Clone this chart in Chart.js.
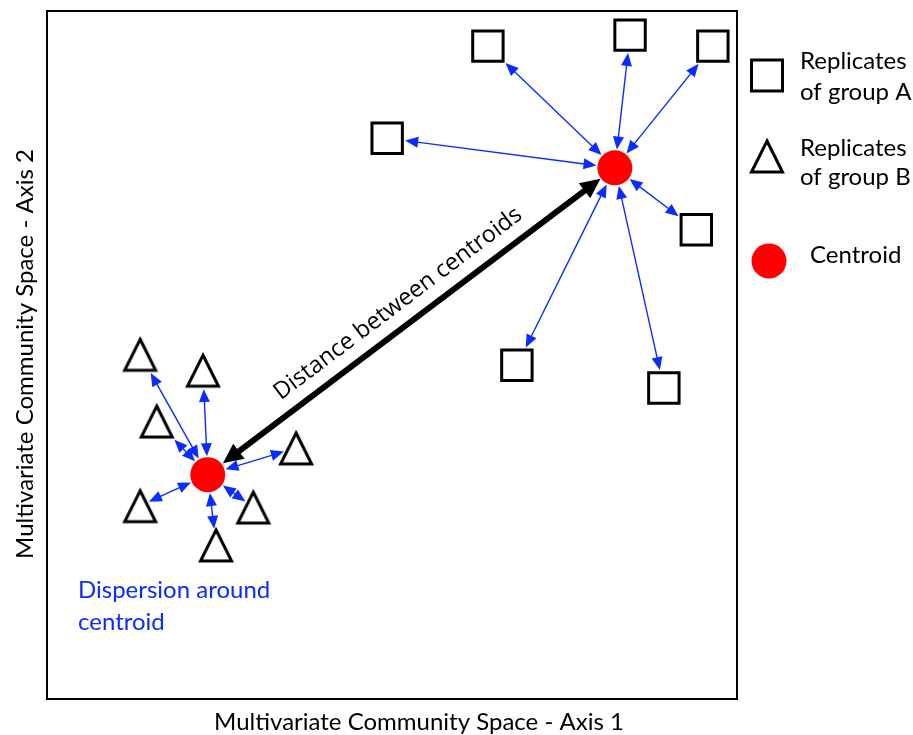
<!DOCTYPE html>
<html>
<head>
<meta charset="utf-8">
<script src="https://cdn.jsdelivr.net/npm/chart.js@4.4.1/dist/chart.umd.min.js"></script>
<style>
body { margin: 0; background: #fff; }
#wrap { width: 913px; height: 735px; }
</style>
</head>
<body>
<div id="wrap"><canvas id="chart" width="913" height="735"></canvas></div>
<script>
// replicates of group A (squares), axis units 0-100
var groupAX = [63.9, 84.5, 96.5, 49.3, 94.1, 68.1, 89.4];
var groupAY = [94.9, 96.5, 94.9, 81.5, 68.2, 48.5, 45.2];
// replicates of group B (triangles)
var groupBX = [13.5, 22.6, 15.9, 36.1, 13.5, 29.9, 24.5];
var groupBY = [50.1, 47.8, 40.4, 36.5, 28.1, 27.9, 22.4];
// centroids, A then B
var centroidX = [82.3, 23.3];
var centroidY = [77.2, 32.6];

var axisXTitle = "Multivariate Community Space - Axis 1";
var axisYTitle = "Multivariate Community Space - Axis 2";
var legendLabels = [["Replicates", "of group A"], ["Replicates", "of group B"], ["Centroid"]];
var distanceLabel = "Distance between centroids";
var dispersionLabel = ["Dispersion around", "centroid"];

var BLUE = "#0a2cff";
var TEXT_FONT = "24px Lato";

function toPoints(xs, ys) {
    var pts = [];
    for (var i = 0; i < xs.length; i++) {
        pts.push({x: xs[i], y: ys[i]});
    }
    return pts;
}

function makeTriangle() {
    var c = document.createElement("canvas");
    c.width = 44;
    c.height = 44;
    var g = c.getContext("2d");
    g.lineWidth = 3;
    g.strokeStyle = "#000";
    g.fillStyle = "#fff";
    g.beginPath();
    g.moveTo(22, 22 - 15);
    g.lineTo(22 + 15.5, 22 + 16);
    g.lineTo(22 - 15.5, 22 + 16);
    g.closePath();
    g.fill();
    g.stroke();
    return c;
}
var triangleImg = makeTriangle();

// outline of each marker in pixels round its centre, used to stop the arrows at the edge
var squareShape = [[-16.5, -16.5], [16.5, -16.5], [16.5, 16.5], [-16.5, 16.5]];
var triangleShape = [[0, -18], [18, 17.5], [-18, 17.5]];

function hitShape(px, py, qx, qy, shape) {
    // first crossing of segment P->Q with the shape outline placed at Q
    var best = 1;
    for (var i = 0; i < shape.length; i++) {
        var a = shape[i], b = shape[(i + 1) % shape.length];
        var ax = qx + a[0], ay = qy + a[1], bx = qx + b[0], by = qy + b[1];
        var rx = qx - px, ry = qy - py, sx = bx - ax, sy = by - ay;
        var den = rx * sy - ry * sx;
        if (Math.abs(den) < 1e-9) continue;
        var t = ((ax - px) * sy - (ay - py) * sx) / den;
        var u = ((ax - px) * ry - (ay - py) * rx) / den;
        if (t >= 0 && t <= 1 && u >= 0 && u <= 1 && t < best) best = t;
    }
    return {x: px + (qx - px) * best, y: py + (qy - py) * best};
}

function head(ctx, tx, ty, ux, uy, len, half) {
    ctx.beginPath();
    ctx.moveTo(tx, ty);
    ctx.lineTo(tx - ux * len - uy * half, ty - uy * len + ux * half);
    ctx.lineTo(tx - ux * len + uy * half, ty - uy * len - ux * half);
    ctx.closePath();
    ctx.fill();
}

function doubleArrow(ctx, x1, y1, x2, y2, color, width, len, half) {
    var dx = x2 - x1, dy = y2 - y1;
    var d = Math.sqrt(dx * dx + dy * dy);
    var ux = dx / d, uy = dy / d;
    ctx.save();
    ctx.strokeStyle = color;
    ctx.fillStyle = color;
    ctx.lineWidth = width;
    ctx.beginPath();
    ctx.moveTo(x1 + ux * (len - 1), y1 + uy * (len - 1));
    ctx.lineTo(x2 - ux * (len - 1), y2 - uy * (len - 1));
    ctx.stroke();
    head(ctx, x2, y2, ux, uy, len, half);
    head(ctx, x1, y1, -ux, -uy, len, half);
    ctx.restore();
}

var diagramPlugin = {
    id: "diagram",
    beforeDatasetsDraw: function (chart) {
        var ctx = chart.ctx;
        var xs = chart.scales.x, ys = chart.scales.y;
        var groups = [[groupAX, groupAY, squareShape], [groupBX, groupBY, triangleShape]];
        var r = 17;
        for (var g = 0; g < groups.length; g++) {
            var cx = xs.getPixelForValue(centroidX[g]);
            var cy = ys.getPixelForValue(centroidY[g]);
            var gx = groups[g][0], gy = groups[g][1];
            for (var i = 0; i < gx.length; i++) {
                var mx = xs.getPixelForValue(gx[i]);
                var my = ys.getPixelForValue(gy[i]);
                var dx = mx - cx, dy = my - cy;
                var d = Math.sqrt(dx * dx + dy * dy);
                var sx = cx + dx / d * (r + 1.5), sy = cy + dy / d * (r + 1.5);
                var e = hitShape(cx, cy, mx, my, groups[g][2]);
                var ex = e.x - dx / d * 1.5, ey = e.y - dy / d * 1.5;
                doubleArrow(ctx, sx, sy, ex, ey, BLUE, 1.4, 13, 5.5);
            }
        }

        // distance between the two centroids
        var ax = xs.getPixelForValue(centroidX[0]), ay = ys.getPixelForValue(centroidY[0]);
        var bx = xs.getPixelForValue(centroidX[1]), by = ys.getPixelForValue(centroidY[1]);
        var ddx = ax - bx, ddy = ay - by;
        var dd = Math.sqrt(ddx * ddx + ddy * ddy);
        var ux = ddx / dd, uy = ddy / dd;
        doubleArrow(ctx, bx + ux * 19, by + uy * 19, ax - ux * 18, ay - uy * 18, "#000", 6, 20, 9.5);

        ctx.save();
        ctx.translate((ax + bx) / 2 + uy * 22, (ay + by) / 2 - ux * 22);
        ctx.rotate(Math.atan2(ddy, ddx));
        ctx.font = "23.5px 'Open Sans'";
        ctx.fillStyle = "#000";
        ctx.textAlign = "center";
        ctx.textBaseline = "middle";
        ctx.fillText(distanceLabel, 0, 0);
        ctx.restore();
    },
    afterDraw: function (chart) {
        var ctx = chart.ctx;
        var area = chart.chartArea;
        ctx.save();
        ctx.strokeStyle = "#000";
        ctx.lineWidth = 2;
        ctx.strokeRect(area.left, area.top, area.right - area.left, area.bottom - area.top);

        ctx.fillStyle = "#000";
        ctx.font = TEXT_FONT;
        ctx.textBaseline = "alphabetic";
        ctx.textAlign = "center";
        ctx.fillText(axisXTitle, 419, 730);
        ctx.save();
        ctx.translate(33, 354);
        ctx.rotate(-Math.PI / 2);
        ctx.fillText(axisYTitle, 0, 0);
        ctx.restore();

        // legend
        ctx.lineWidth = 3;
        ctx.strokeRect(767 - 15.5, 75.5 - 15.5, 31, 31);
        ctx.drawImage(triangleImg, 767 - 22, 156 - 22);
        ctx.fillStyle = "#ff0000";
        ctx.beginPath();
        ctx.arc(769, 261, 17.5, 0, Math.PI * 2);
        ctx.fill();
        ctx.fillStyle = "#000";
        ctx.textAlign = "left";
        ctx.fillText(legendLabels[0][0], 800, 69);
        ctx.fillText(legendLabels[0][1], 800, 100);
        ctx.fillText(legendLabels[1][0], 800, 156);
        ctx.fillText(legendLabels[1][1], 800, 185);
        ctx.fillText(legendLabels[2][0], 810, 263);

        ctx.fillStyle = BLUE;
        ctx.fillText(dispersionLabel[0], 78, 598);
        ctx.fillText(dispersionLabel[1], 78, 630);
        ctx.restore();
    }
};

var chart = new Chart(document.getElementById("chart"), {
    type: "scatter",
    data: {
        datasets: [
            {
                label: "Replicates of group A",
                data: toPoints(groupAX, groupAY),
                pointStyle: "rect",
                pointRadius: 21.5,
                borderWidth: 3,
                borderColor: "#000",
                backgroundColor: "#fff"
            },
            {
                label: "Replicates of group B",
                data: toPoints(groupBX, groupBY),
                pointStyle: triangleImg,
                pointRadius: 20
            },
            {
                label: "Centroid",
                data: toPoints(centroidX, centroidY),
                pointStyle: "circle",
                pointRadius: 17.5,
                borderWidth: 0,
                backgroundColor: "#ff0000"
            }
        ]
    },
    options: {
        responsive: false,
        animation: false,
        layout: {
            autoPadding: false,
            padding: {left: 47, top: 11, right: 176, bottom: 36}
        },
        plugins: {
            legend: {display: false},
            tooltip: {enabled: false}
        },
        scales: {
            x: {type: "linear", min: 0, max: 100, display: false},
            y: {type: "linear", min: 0, max: 100, display: false}
        }
    },
    plugins: [diagramPlugin]
});
</script>
</body>
</html>
